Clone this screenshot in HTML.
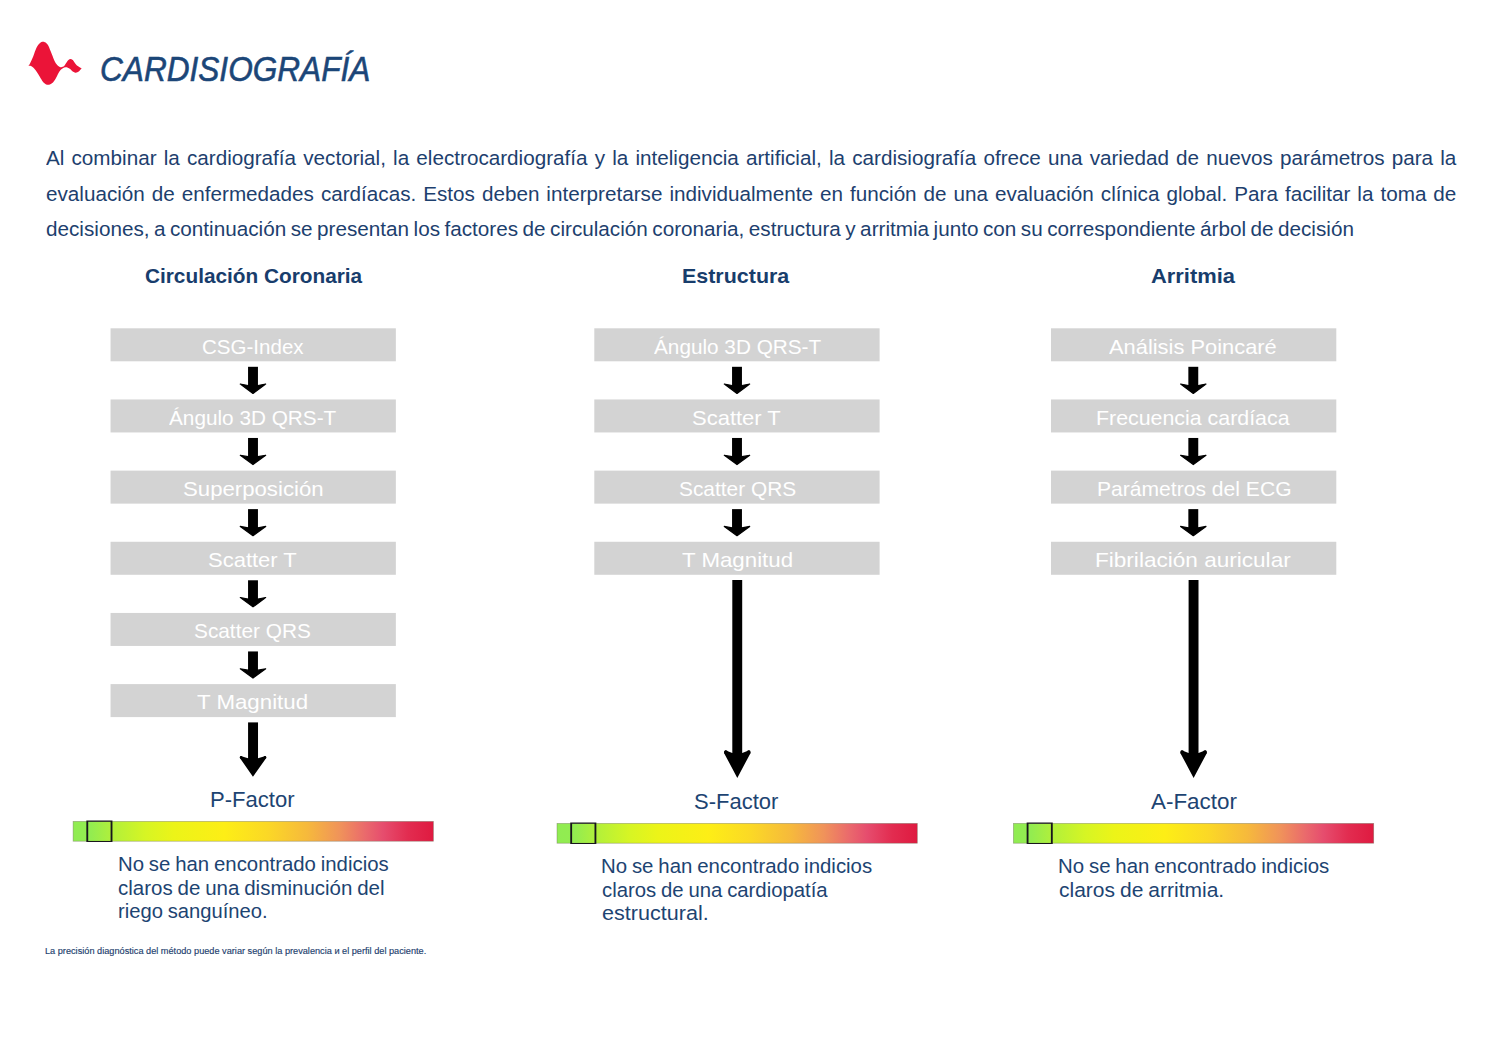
<!DOCTYPE html>
<html lang="es">
<head>
<meta charset="utf-8">
<title>Cardisiografía</title>
<style>
  html, body { margin: 0; padding: 0; background: #ffffff; }
  body { width: 1500px; height: 1061px; position: relative; overflow: hidden;
         font-family: "Liberation Sans", sans-serif; color: #1b4070; }
  .t { position: absolute; white-space: nowrap; transform-origin: 0 0; line-height: 1; }
  .para { position: absolute; left: 46.2px; font-size: 19px; line-height: 19px; height: 19px;
          color: #1d406e; text-align: justify; text-align-last: justify; white-space: normal;
          transform-origin: 0 0; }
  svg { position: absolute; left: 0; top: 0; }
</style>
</head>
<body>



<!-- logo + arrows -->
<svg width="1500" height="1061" viewBox="0 0 1500 1061">
  <path id="logo" fill="#eb1438" d="M28.24,65.94 C28.52,65.56 29.07,65.23 29.89,63.64 C30.72,62.04 32.09,59.02 33.19,56.38 C34.29,53.74 35.39,50.01 36.49,47.81 C37.59,45.61 38.69,44.18 39.79,43.19 C40.88,42.20 41.98,41.87 43.08,41.87 C44.18,41.87 45.50,42.53 46.38,43.19 C47.26,43.85 47.48,44.07 48.36,45.83 C49.24,47.59 50.56,51.10 51.66,53.74 C52.76,56.38 53.86,59.62 54.95,61.66 C56.05,63.69 57.21,65.03 58.25,65.94 C59.30,66.86 60.23,67.13 61.22,67.13 C62.21,67.13 63.36,66.64 64.19,65.94 C65.01,65.25 65.45,63.97 66.17,62.98 C66.88,61.99 67.76,60.67 68.47,60.01 C69.19,59.35 69.74,59.02 70.45,59.02 C71.17,59.02 71.94,59.24 72.76,60.01 C73.59,60.78 74.52,62.59 75.40,63.64 C76.28,64.68 76.99,65.50 78.04,66.27 C79.08,67.04 81.06,67.92 81.67,68.25 C81.28,68.69 80.07,70.23 79.36,70.89 C78.64,71.55 78.04,71.91 77.38,72.21 C76.72,72.51 76.17,72.78 75.40,72.67 C74.63,72.56 73.64,72.18 72.76,71.55 C71.88,70.92 70.95,69.56 70.12,68.91 C69.30,68.26 68.58,67.93 67.82,67.66 C67.05,67.38 66.33,67.18 65.51,67.26 C64.68,67.35 63.69,67.74 62.87,68.19 C62.04,68.64 61.33,69.08 60.56,69.97 C59.79,70.86 59.08,72.06 58.25,73.53 C57.43,75.00 56.49,77.32 55.61,78.80 C54.73,80.29 53.86,81.53 52.98,82.43 C52.10,83.33 51.16,83.83 50.34,84.21 C49.51,84.60 48.80,84.74 48.03,84.74 C47.26,84.74 46.55,84.65 45.72,84.21 C44.90,83.77 44.07,83.33 43.08,82.10 C42.09,80.87 40.88,78.58 39.79,76.83 C38.69,75.07 37.59,73.09 36.49,71.55 C35.39,70.01 34.12,68.53 33.19,67.59 C32.26,66.66 31.54,66.25 30.88,65.94 C30.22,65.64 29.67,65.75 29.23,65.75 C28.79,65.75 28.41,65.91 28.24,65.94 Z"/>
  <defs>
    <linearGradient id="gr" x1="0" y1="0" x2="1" y2="0">
      <stop offset="0" stop-color="#90ec52"/><stop offset="0.05" stop-color="#93ec50"/><stop offset="0.11" stop-color="#b2f03a"/>
      <stop offset="0.20" stop-color="#d6f524"/><stop offset="0.28" stop-color="#ecf418"/><stop offset="0.42" stop-color="#fdee16"/>
      <stop offset="0.54" stop-color="#fbd826"/><stop offset="0.65" stop-color="#f6b93c"/><stop offset="0.74" stop-color="#f0935a"/>
      <stop offset="0.81" stop-color="#ea6a6c"/><stop offset="0.86" stop-color="#e64d6e"/><stop offset="0.93" stop-color="#e22c50"/>
      <stop offset="1" stop-color="#df1a40"/></linearGradient>
    <g id="ar"><rect x="-4.95" y="0" width="9.9" height="20"/><path d="M-12.7,17.3 L-4.9,18.7 H4.9 L12.7,17.3 L0,26.6 Z" stroke="#000" stroke-width="1.2" stroke-linejoin="round"/></g>
  </defs>
  <g fill="#d3d3d3">
    <rect x="110.55" y="328.30" width="285.3" height="33"/>
    <rect x="110.55" y="399.46" width="285.3" height="33"/>
    <rect x="110.55" y="470.62" width="285.3" height="33"/>
    <rect x="110.55" y="541.78" width="285.3" height="33"/>
    <rect x="110.55" y="612.94" width="285.3" height="33"/>
    <rect x="110.55" y="684.10" width="285.3" height="33"/>
    <rect x="594.3" y="328.30" width="285.3" height="33"/>
    <rect x="594.3" y="399.46" width="285.3" height="33"/>
    <rect x="594.3" y="470.62" width="285.3" height="33"/>
    <rect x="594.3" y="541.78" width="285.3" height="33"/>
    <rect x="1051.0" y="328.30" width="285.3" height="33"/>
    <rect x="1051.0" y="399.46" width="285.3" height="33"/>
    <rect x="1051.0" y="470.62" width="285.3" height="33"/>
    <rect x="1051.0" y="541.78" width="285.3" height="33"/>
  </g>
  <rect x="73.10" y="821.40" width="360.3" height="19.8" fill="url(#gr)" stroke="#6e6e5a" stroke-opacity="0.55" stroke-width="0.7"/>
  <rect x="557.00" y="823.40" width="360.3" height="19.8" fill="url(#gr)" stroke="#6e6e5a" stroke-opacity="0.55" stroke-width="0.7"/>
  <rect x="1013.40" y="823.40" width="360.3" height="19.8" fill="url(#gr)" stroke="#6e6e5a" stroke-opacity="0.55" stroke-width="0.7"/>
  <path fill="#18161c" fill-rule="evenodd" d="M86.35,820.55 h26.1 v21.45 h-26.1 Z M88.20,821.65 v19.25 h22.40 v-19.25 Z"/>
  <path fill="#18161c" fill-rule="evenodd" d="M570.25,822.55 h26.1 v21.45 h-26.1 Z M572.10,823.65 v19.25 h22.40 v-19.25 Z"/>
  <path fill="#18161c" fill-rule="evenodd" d="M1026.65,822.55 h26.1 v21.45 h-26.1 Z M1028.50,823.65 v19.25 h22.40 v-19.25 Z"/>
  <g fill="#000">
    <use href="#ar" x="253" y="366.8"/>
    <use href="#ar" x="253" y="437.96"/>
    <use href="#ar" x="253" y="509.12"/>
    <use href="#ar" x="253" y="580.28"/>
    <use href="#ar" x="253" y="651.44"/>
    <use href="#ar" x="737" y="366.8"/>
    <use href="#ar" x="737" y="437.96"/>
    <use href="#ar" x="737" y="509.12"/>
    <use href="#ar" x="1193.3" y="366.8"/>
    <use href="#ar" x="1193.3" y="437.96"/>
    <use href="#ar" x="1193.3" y="509.12"/>
    <!-- medium arrow col 1 -->
    <rect x="248.07" y="722.4" width="9.95" height="38"/>
    <path d="M239.9,758 L252.95,776.8 L266.2,758 L265.5,756.1 L258,758.2 H248.07 L240.6,756.1 Z"/>
    <circle cx="241.1" cy="757.4" r="1.35"/><circle cx="265" cy="757.4" r="1.35"/>
    <!-- long arrows -->
    <g id="la"><rect x="732.3" y="580" width="9.9" height="176"/>
    <path d="M724.0,752.9 L737.3,777.9 L750.6,752.9 L749.3,750.3 L742.2,753.1 H732.3 L725.3,750.3 Z"/>
    <circle cx="725.85" cy="752.1" r="1.9"/><circle cx="748.75" cy="752.1" r="1.9"/></g>
    <use href="#la" x="456.3" y="0"/>
  </g>
</svg>


<div class="para" id="p1" style="top:148.62px;width:1343.2px;font-size:19.7px;line-height:19.7px;height:19.7px;transform:scaleX(1.05)">Al combinar la cardiografía vectorial, la electrocardiografía y la inteligencia artificial, la cardisiografía ofrece una variedad de nuevos parámetros para la</div>
<div class="para" id="p2" style="top:184.72px;width:1343.2px;font-size:19.7px;line-height:19.7px;height:19.7px;transform:scaleX(1.05)">evaluación de enfermedades cardíacas. Estos deben interpretarse individualmente en función de una evaluación clínica global. Para facilitar la toma de</div>
<div class="t" id="title" style="left:100.41px;top:52.14px;font-size:34.8px;font-style:italic;color:#1b4678;-webkit-text-stroke:0.6px #1b4678;transform:scaleX(0.9079)">CARDISIOGRAFÍA</div>
<div class="t" id="p3" style="left:45.76px;top:219.62px;font-size:19.7px;color:#1d406e;word-spacing:-1.2px;transform:scaleX(1.0510)">decisiones, a continuación se presentan los factores de circulación coronaria, estructura y arritmia junto con su correspondiente árbol de decisión</div>
<div class="t" id="h1" style="left:144.54px;top:265.96px;font-size:20.6px;font-weight:bold;color:#183d6c;transform:scaleX(1.0093)">Circulación Coronaria</div>
<div class="t" id="h2" style="left:682.42px;top:265.96px;font-size:20.6px;font-weight:bold;color:#183d6c;transform:scaleX(1.0414)">Estructura</div>
<div class="t" id="h3" style="left:1151.21px;top:265.96px;font-size:20.6px;font-weight:bold;color:#183d6c;transform:scaleX(1.0630)">Arritmia</div>
<div class="t" id="b11" style="left:202.01px;top:335.82px;font-size:21.0px;color:#fff;transform:scaleX(0.9778)">CSG-Index</div>
<div class="t" id="b12" style="left:168.98px;top:407.02px;font-size:21.0px;color:#fff;transform:scaleX(0.9886)">Ángulo 3D QRS-T</div>
<div class="t" id="b13" style="left:182.76px;top:478.12px;font-size:21.0px;color:#fff;transform:scaleX(1.0563)">Superposición</div>
<div class="t" id="b14" style="left:208.46px;top:549.32px;font-size:21.0px;color:#fff;transform:scaleX(1.0469)">Scatter T</div>
<div class="t" id="b15" style="left:194.28px;top:620.42px;font-size:21.0px;color:#fff;transform:scaleX(0.9909)">Scatter QRS</div>
<div class="t" id="b16" style="left:197.33px;top:691.02px;font-size:21.0px;color:#fff;transform:scaleX(1.0614)">T Magnitud</div>
<div class="t" id="b21" style="left:654.08px;top:335.82px;font-size:21.0px;color:#fff;transform:scaleX(0.9880)">Ángulo 3D QRS-T</div>
<div class="t" id="b22" style="left:692.46px;top:407.02px;font-size:21.0px;color:#fff;transform:scaleX(1.0469)">Scatter T</div>
<div class="t" id="b23" style="left:678.58px;top:478.12px;font-size:21.0px;color:#fff;transform:scaleX(0.9946)">Scatter QRS</div>
<div class="t" id="b24" style="left:682.39px;top:549.32px;font-size:21.0px;color:#fff;transform:scaleX(1.0614)">T Magnitud</div>
<div class="t" id="b31" style="left:1109.24px;top:335.82px;font-size:21.0px;color:#fff;transform:scaleX(1.0413)">Análisis Poincaré</div>
<div class="t" id="b32" style="left:1095.88px;top:407.02px;font-size:21.0px;color:#fff;transform:scaleX(1.0171)">Frecuencia cardíaca</div>
<div class="t" id="b33" style="left:1096.51px;top:478.12px;font-size:21.0px;color:#fff;transform:scaleX(1.0041)">Parámetros del ECG</div>
<div class="t" id="b34" style="left:1095.22px;top:549.32px;font-size:21.0px;color:#fff;transform:scaleX(1.0749)">Fibrilación auricular</div>
<div class="t" id="f1" style="left:209.87px;top:789.97px;font-size:21.3px;color:#1d4472;transform:scaleX(1.0364)">P-Factor</div>
<div class="t" id="f2" style="left:694.13px;top:791.97px;font-size:21.3px;color:#1d4472;transform:scaleX(1.0326)">S-Factor</div>
<div class="t" id="f3" style="left:1150.72px;top:791.97px;font-size:21.3px;color:#1d4472;transform:scaleX(1.0514)">A-Factor</div>
<div class="t" id="d11" style="left:117.55px;top:855.12px;font-size:19.7px;color:#1d4472;word-spacing:-0.8px;transform:scaleX(1.0345)">No se han encontrado indicios</div>
<div class="t" id="d12" style="left:118.49px;top:878.52px;font-size:19.7px;color:#1d4472;word-spacing:-0.8px;transform:scaleX(1.0406)">claros de una disminución del</div>
<div class="t" id="d13" style="left:117.71px;top:901.62px;font-size:19.7px;color:#1d4472;word-spacing:-0.8px;transform:scaleX(1.0250)">riego sanguíneo.</div>
<div class="t" id="d21" style="left:601.36px;top:857.12px;font-size:19.7px;color:#1d4472;word-spacing:-0.8px;transform:scaleX(1.0363)">No se han encontrado indicios</div>
<div class="t" id="d22" style="left:602.28px;top:880.52px;font-size:19.7px;color:#1d4472;word-spacing:-0.8px;transform:scaleX(1.0319)">claros de una cardiopatía</div>
<div class="t" id="d23" style="left:602.09px;top:903.62px;font-size:19.7px;color:#1d4472;word-spacing:-0.8px;transform:scaleX(1.0960)">estructural.</div>
<div class="t" id="d31" style="left:1057.95px;top:857.12px;font-size:19.7px;color:#1d4472;word-spacing:-0.8px;transform:scaleX(1.0367)">No se han encontrado indicios</div>
<div class="t" id="d32" style="left:1058.71px;top:880.52px;font-size:19.7px;color:#1d4472;word-spacing:-0.8px;transform:scaleX(1.0666)">claros de arritmia.</div>
<div class="t" id="foot" style="left:44.94px;top:946.81px;font-size:9.2px;color:#1d406e;-webkit-text-stroke:0.15px #1d406e;transform:scaleX(0.9993)">La precisión diagnóstica del método puede variar según la prevalencia и el perfil del paciente.</div>

</body>
</html>
